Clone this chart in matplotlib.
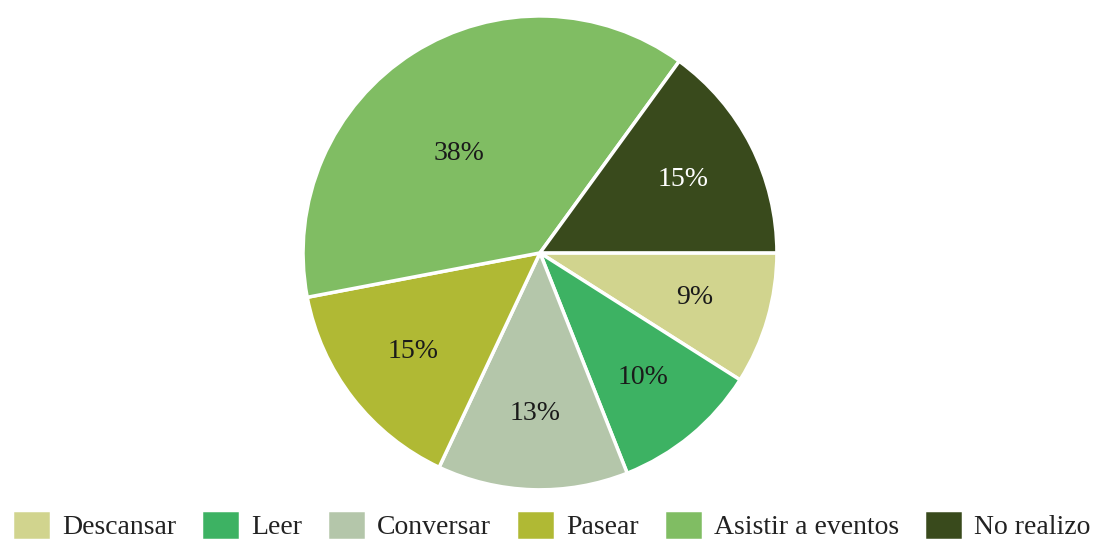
import numpy as np
import matplotlib.pyplot as plt

plt.rcParams['font.family'] = ['Liberation Serif', 'DejaVu Serif']

labels = ["Descansar", "Leer", "Conversar", "Pasear", "Asistir a eventos", "No realizo"]
values = [9, 10, 13, 15, 38, 15]
colors = ["#d1d48e", "#3db263", "#b4c6aa", "#b0b934", "#80bd63", "#394a1c"]
text_colors = ["#1a1a1a", "#1a1a1a", "#1a1a1a", "#1a1a1a", "#1a1a1a", "#ffffff"]

fig = plt.figure(figsize=(11.02, 5.54), dpi=100)
ax = fig.add_axes([0.275, 0.1155, 0.430, 0.856])

wedges, texts, autotexts = ax.pie(
    values, colors=colors, startangle=0, counterclock=False,
    autopct="%1.0f%%", pctdistance=0.68,
    wedgeprops=dict(edgecolor="white", linewidth=2.5),
    textprops=dict(fontsize=20))

for t, c in zip(autotexts, text_colors):
    t.set_color(c)

# the big slice has its label nearer the centre
x, y = autotexts[4].get_position()
autotexts[4].set_position((x * 0.8 - 0.05, y * 0.8 - 0.04))

ax.set_xlim(-1, 1)
ax.set_ylim(-1, 1)
ax.set_aspect("equal")

fig.legend(wedges, labels, loc="lower center", bbox_to_anchor=(0.5, -0.02),
           ncol=6, frameon=False, fontsize=20, handlelength=1.4, handleheight=1.3,
           handletextpad=0.4, columnspacing=0.9, labelcolor="#222222")

fig.savefig("out.png", dpi=100)
